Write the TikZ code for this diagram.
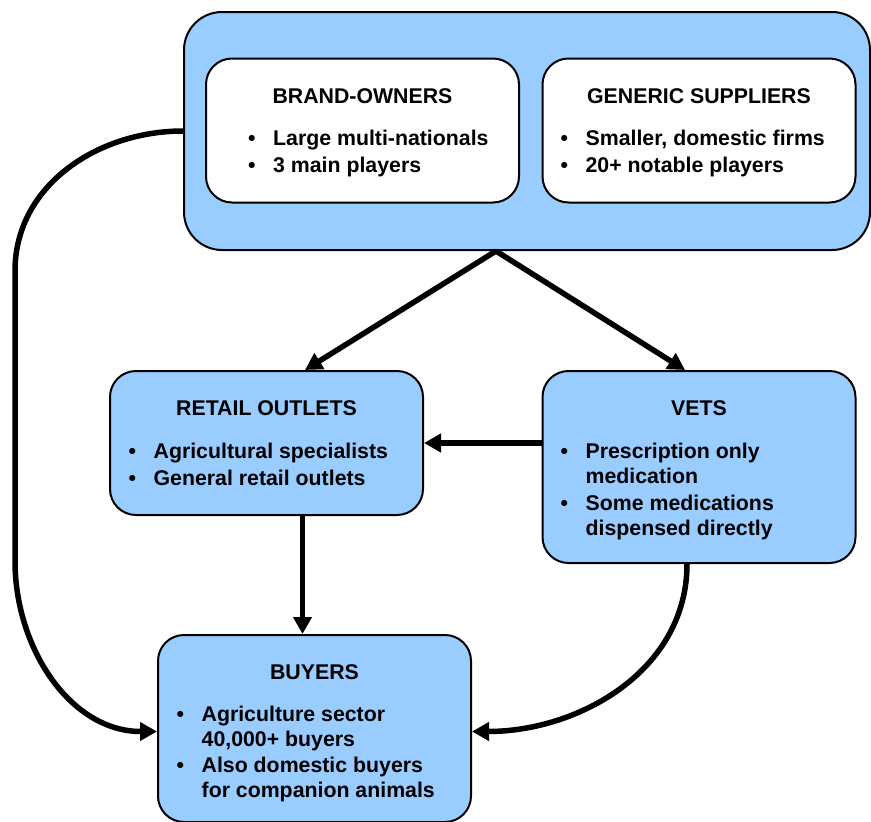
\documentclass[tikz,border=0pt]{standalone}
\usepackage{fontspec}
\setmainfont{Liberation Sans}
\usetikzlibrary{arrows.meta,positioning}
\definecolor{paleblue}{HTML}{99CCFF}

\tikzset{
  box/.style={draw, line width=2pt, fill=paleblue, rounded corners=26pt,
    minimum width=313pt, minimum height=144pt, inner sep=0pt},
  group/.style={box, rounded corners=38pt, minimum width=686pt, minimum height=238pt},
  title/.style={anchor=base, inner sep=0pt, font=\bfseries\fontsize{21.3}{25}\selectfont},
  points/.style={anchor=base west, inner sep=0pt, font=\bfseries\fontsize{21.3}{25}\selectfont},
  flow/.style={line width=5.5pt, -{Triangle[length=17pt,width=18pt]}},
}

\newcommand{\pointlist}[1]{\begin{tabular}[t]{@{}l@{\hspace{17.5pt}}l@{}}#1\end{tabular}}

\begin{document}
\begin{tikzpicture}[x=1pt, y=-1pt]
  \useasboundingbox (0,0) rectangle (871,822);

  \node[group] (makers) at (527,131) {};
  \node[box, fill=white] (owners) at (362.5,130.5) {};
  \node[box, fill=white] (generic) at (699,130.5) {};
  \node[box] (retail) at (266.5,443) {};
  \node[box, minimum height=192pt] (vets) at (699,467) {};
  \node[box, minimum height=187pt] (buyers) at (314.5,728.5) {};

  \node[title] (ownersT) at ([yshift=-46pt]owners.north) {BRAND-OWNERS};
  \node[points] (ownersL) at ([xshift=43pt,yshift=-88pt]owners.north west)
    {\pointlist{\textbullet & Large multi-nationals \\[2pt]
                \textbullet & 3 main players}};

  \node[title] (genericT) at ([yshift=-46pt]generic.north) {GENERIC SUPPLIERS};
  \node[points] (genericL) at ([xshift=19pt,yshift=-88pt]generic.north west)
    {\pointlist{\textbullet & Smaller, domestic firms \\[2pt]
                \textbullet & 20+ notable players}};

  \node[title] (retailT) at ([yshift=-45pt]retail.north) {RETAIL OUTLETS};
  \node[points] (retailL) at ([xshift=19.5pt,yshift=-88pt]retail.north west)
    {\pointlist{\textbullet & Agricultural specialists \\[2pt]
                \textbullet & General retail outlets}};

  \node[title] (vetsT) at ([yshift=-45pt]vets.north) {VETS};
  \node[points] (vetsL) at ([xshift=19pt,yshift=-88pt]vets.north west)
    {\pointlist{\textbullet & Prescription only \\
                & medication \\[2pt]
                \textbullet & Some medications \\
                & dispensed directly}};

  \node[title] (buyersT) at ([yshift=-45.5pt]buyers.north) {BUYERS};
  \node[points] (buyersL) at ([xshift=19.5pt,yshift=-87.5pt]buyers.north west)
    {\pointlist{\textbullet & Agriculture sector \\
                & 40,000+ buyers \\[1pt]
                \textbullet & Also domestic buyers \\
                & for companion animals}};

  \draw[flow] ([xshift=-31pt]makers.south) -- ([xshift=38.5pt]retail.north);
  \draw[flow] ([xshift=-31pt]makers.south) -- ([xshift=-14pt]vets.north);
  \draw[flow] (vets.west |- retail.east) -- (retail.east);
  \draw[flow] ([xshift=36pt]retail.south) -- ([xshift=36pt]retail.south |- buyers.north);
  \draw[flow] (makers.west) to[out=180,in=90] ++(-168,140) -- ++(0,290)
    to[out=-90,in=180] ([yshift=-3pt]buyers.west);
  \draw[flow] ([xshift=-12pt]vets.south) to[out=-90,in=0] ([yshift=-3pt]buyers.east);
\end{tikzpicture}
\end{document}
